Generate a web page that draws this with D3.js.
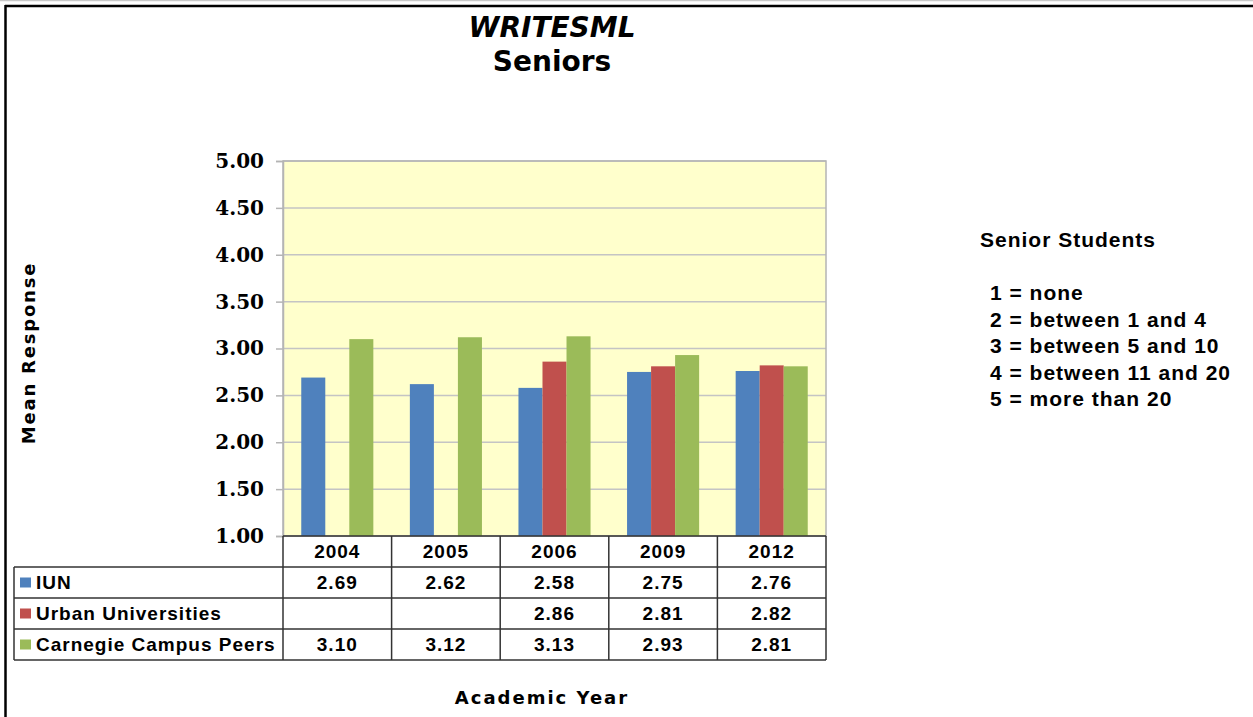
<!DOCTYPE html>
<html>
<head>
<meta charset="utf-8">
<script src="https://cdn.jsdelivr.net/npm/d3@7"></script>
<style>
  body { margin: 0; background: #fff; }
  svg { display: block; }
</style>
</head>
<body>
<div id="chart"></div>
<script>
const years = ['2004', '2005', '2006', '2009', '2012']
const seriesNames = ['IUN', 'Urban Universities', 'Carnegie Campus Peers']
const iun = [2.69, 2.62, 2.58, 2.75, 2.76]
const urban = [null, null, 2.86, 2.81, 2.82]
const carnegie = [3.10, 3.12, 3.13, 2.93, 2.81]
const yTicks = [1.00, 1.50, 2.00, 2.50, 3.00, 3.50, 4.00, 4.50, 5.00]
const legendTitle = 'Senior Students'
const legendLines = ['1 = none', '2 = between 1 and 4', '3 = between 5 and 10', '4 = between 11 and 20', '5 = more than 20']

const seriesValues = [iun, urban, carnegie]
const colors = ['#4F81BD', '#C0504D', '#9BBB59']

const width = 1253
const height = 717
const plot = { left: 283, right: 826, top: 161, bottom: 536 }
const rowH = 31
const tableLeft = 14

const svg = d3.select('#chart')
  .append('svg')
  .attr('width', width)
  .attr('height', height)

// Frame
svg.append('line').attr('x1', 0).attr('x2', width).attr('y1', 0.5).attr('y2', 0.5)
  .attr('stroke', '#c8c8c8').attr('stroke-width', 1.5)
svg.append('line').attr('x1', 5).attr('x2', width).attr('y1', 6).attr('y2', 6)
  .attr('stroke', '#000').attr('stroke-width', 2.5)
svg.append('line').attr('x1', 5.5).attr('x2', 5.5).attr('y1', 5).attr('y2', height)
  .attr('stroke', '#000').attr('stroke-width', 2.5)

// Titles
svg.append('text')
  .attr('x', 552).attr('y', 37)
  .attr('text-anchor', 'middle')
  .attr('font-family', 'DejaVu Sans')
  .attr('font-weight', 'bold')
  .attr('font-style', 'italic')
  .attr('font-size', 28)
  .text('WRITESML')
svg.append('text')
  .attr('x', 552).attr('y', 71)
  .attr('text-anchor', 'middle')
  .attr('font-family', 'DejaVu Sans')
  .attr('font-weight', 'bold')
  .attr('font-size', 28)
  .text('Seniors')

// Scales
const x0 = d3.scaleBand()
  .domain(years)
  .range([plot.left, plot.right])
  .padding(0)

const x1 = d3.scaleBand()
  .domain(d3.range(seriesNames.length))
  .range([0, x0.bandwidth()])
  .paddingInner(0)
  .paddingOuter(0.76)

const y = d3.scaleLinear()
  .domain([1, 5])
  .range([plot.bottom, plot.top])

// Plot background
svg.append('rect')
  .attr('x', plot.left).attr('y', plot.top)
  .attr('width', plot.right - plot.left)
  .attr('height', plot.bottom - plot.top)
  .attr('fill', '#FFFFCC')

// Gridlines
svg.append('g')
  .selectAll('line')
  .data(yTicks.slice(1))
  .join('line')
    .attr('x1', plot.left).attr('x2', plot.right)
    .attr('y1', d => y(d)).attr('y2', d => y(d))
    .attr('stroke', '#c4c4c4')
    .attr('stroke-width', 1.5)

// Plot border
svg.append('rect')
  .attr('x', plot.left).attr('y', plot.top)
  .attr('width', plot.right - plot.left)
  .attr('height', plot.bottom - plot.top)
  .attr('fill', 'none')
  .attr('stroke', '#b4b4b4')
  .attr('stroke-width', 1.5)

// Bars
const barData = []
years.forEach((yr, i) => {
  seriesValues.forEach((vals, s) => {
    if (vals[i] != null) barData.push({ year: yr, s, value: vals[i] })
  })
})

svg.append('g')
  .selectAll('rect')
  .data(barData)
  .join('rect')
    .attr('x', d => x0(d.year) + x1(d.s))
    .attr('y', d => y(d.value))
    .attr('width', x1.bandwidth())
    .attr('height', d => y(1) - y(d.value))
    .attr('fill', d => colors[d.s])

// Y axis
const yAxis = svg.append('g')
  .attr('transform', `translate(${plot.left},0)`)
  .call(d3.axisLeft(y).tickValues(yTicks).tickFormat(d3.format('.2f')).tickSize(7).tickPadding(12))
yAxis.select('.domain').attr('stroke', '#b4b4b4').attr('stroke-width', 1.5)
yAxis.selectAll('.tick line').attr('stroke', '#b4b4b4').attr('stroke-width', 1.5)
yAxis.selectAll('.tick text')
  .attr('fill', '#000')
  .attr('font-family', 'DejaVu Serif')
  .attr('font-weight', 'bold')
  .attr('font-size', 20)

// Axis titles
svg.append('text')
  .attr('transform', 'translate(35,353) rotate(-90)')
  .attr('text-anchor', 'middle')
  .attr('font-family', 'DejaVu Sans')
  .attr('font-weight', 'bold')
  .attr('font-size', 18)
  .attr('letter-spacing', 1.8)
  .text('Mean Response')

svg.append('text')
  .attr('x', 542).attr('y', 704)
  .attr('text-anchor', 'middle')
  .attr('font-family', 'DejaVu Sans')
  .attr('font-weight', 'bold')
  .attr('font-size', 18)
  .attr('letter-spacing', 2)
  .text('Academic Year')

// Data table
const table = svg.append('g')
const tableBottom = plot.bottom + rowH * 4
const tableFont = g => g
  .attr('font-family', 'Liberation Sans, Arial')
  .attr('font-weight', 'bold')
  .attr('font-size', 19)
  .attr('letter-spacing', 1)
  .attr('fill', '#000')

// header cells
table.append('g')
  .selectAll('text')
  .data(years)
  .join('text')
    .attr('x', d => x0(d) + x0.bandwidth() / 2)
    .attr('y', plot.bottom + rowH / 2)
    .attr('dy', '0.36em')
    .attr('text-anchor', 'middle')
    .call(tableFont)
    .text(d => d)

// row labels and values
seriesNames.forEach((name, s) => {
  const rowTop = plot.bottom + rowH * (s + 1)
  table.append('rect')
    .attr('x', 20).attr('y', rowTop + rowH / 2 - 5)
    .attr('width', 11).attr('height', 10)
    .attr('fill', colors[s])
  table.append('text')
    .attr('x', 36).attr('y', rowTop + rowH / 2)
    .attr('dy', '0.36em')
    .call(tableFont)
    .text(name)
  table.append('g')
    .selectAll('text')
    .data(years.map((yr, i) => ({ yr, v: seriesValues[s][i] })).filter(d => d.v != null))
    .join('text')
      .attr('x', d => x0(d.yr) + x0.bandwidth() / 2)
      .attr('y', rowTop + rowH / 2)
      .attr('dy', '0.36em')
      .attr('text-anchor', 'middle')
      .call(tableFont)
      .text(d => d.v.toFixed(2))
})

// table grid
const gridColor = '#333'
const hLines = [
  { y: plot.bottom + rowH, x1: tableLeft, x2: plot.right },
  { y: plot.bottom + rowH * 2, x1: tableLeft, x2: plot.right },
  { y: plot.bottom + rowH * 3, x1: tableLeft, x2: plot.right },
  { y: tableBottom, x1: tableLeft, x2: plot.right }
]
table.append('g')
  .selectAll('line')
  .data(hLines)
  .join('line')
    .attr('x1', d => d.x1).attr('x2', d => d.x2)
    .attr('y1', d => d.y).attr('y2', d => d.y)
    .attr('stroke', gridColor).attr('stroke-width', 1.5)

const colEdges = years.map(d => x0(d)).concat([plot.right])
table.append('g')
  .selectAll('line')
  .data(colEdges)
  .join('line')
    .attr('x1', d => d).attr('x2', d => d)
    .attr('y1', plot.bottom).attr('y2', tableBottom)
    .attr('stroke', gridColor).attr('stroke-width', 1.5)
table.append('line')
  .attr('x1', tableLeft).attr('x2', tableLeft)
  .attr('y1', plot.bottom + rowH).attr('y2', tableBottom)
  .attr('stroke', gridColor).attr('stroke-width', 1.5)
table.append('line')
  .attr('x1', plot.left).attr('x2', plot.right)
  .attr('y1', plot.bottom).attr('y2', plot.bottom)
  .attr('stroke', gridColor).attr('stroke-width', 1.5)

// Legend text
const legend = svg.append('g')
  .attr('font-family', 'Liberation Sans, Arial')
  .attr('font-weight', 'bold')
  .attr('font-size', 21)
  .attr('letter-spacing', 1)
  .attr('fill', '#000')
legend.append('text')
  .attr('x', 980).attr('y', 247)
  .text(legendTitle)
legend.selectAll('text.line')
  .data(legendLines)
  .join('text')
    .attr('class', 'line')
    .attr('x', 990)
    .attr('y', (d, i) => 300 + i * 26.5)
    .text(d => d)
</script>
</body>
</html>
